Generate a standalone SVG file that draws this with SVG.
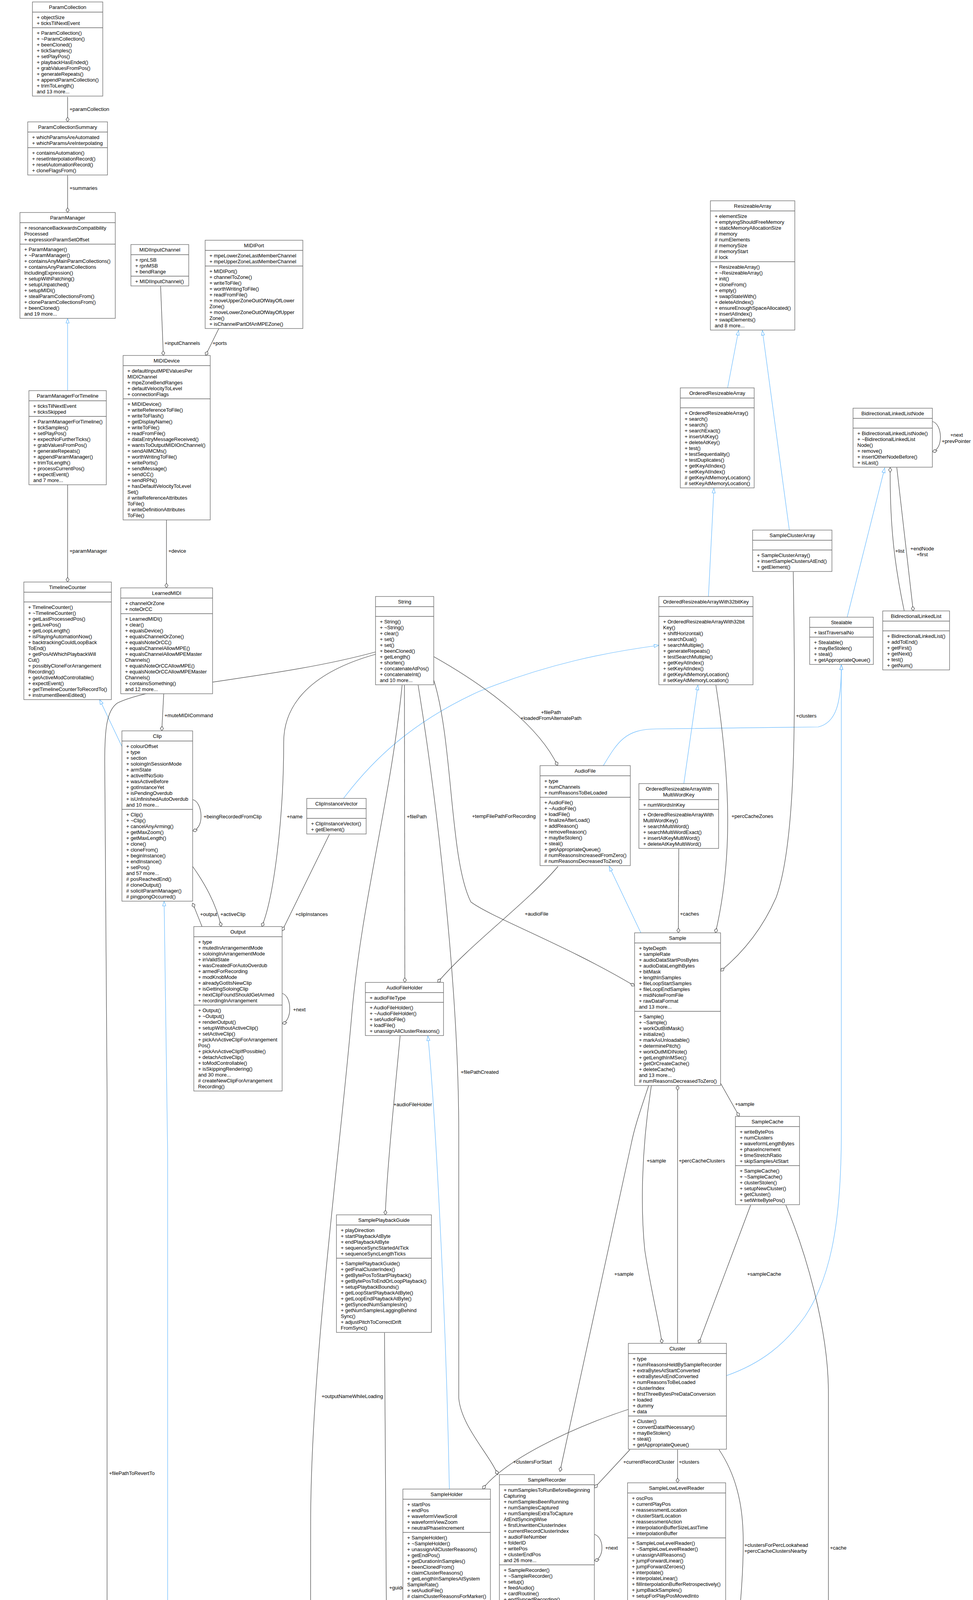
<svg xmlns="http://www.w3.org/2000/svg" width="2490" height="5821" viewBox="0 0 2490 5821">
<style>
.b{fill:#fff;stroke:#666;stroke-width:1.3}
.g{fill:#999;stroke:#666;stroke-width:1.3}
.s{stroke:#666;stroke-width:1.3;fill:none}
text{font-family:"Liberation Sans",Arial,Helvetica,sans-serif;font-size:13px;fill:#000}
.c{text-anchor:middle}
.e{fill:none;stroke:#404040;stroke-width:1.2;marker-end:url(#dia)}
.i{fill:none;stroke:#63b8ff;stroke-width:1.2;marker-end:url(#tri)}
</style>
<defs>
<marker id="dia" markerUnits="userSpaceOnUse" markerWidth="14" markerHeight="10" refX="12" refY="5" orient="auto" overflow="visible"><path d="M0,5 L6,1 L12,5 L6,9 z" fill="#fff" stroke="#404040" stroke-width="1.2"/></marker>
<marker id="tri" markerUnits="userSpaceOnUse" markerWidth="13" markerHeight="10" refX="12" refY="5" orient="auto" overflow="visible"><path d="M0,1 L12,5 L0,9 z" fill="#fff" stroke="#63b8ff" stroke-width="1.2"/></marker>
</defs>
<rect width="2490" height="5821" fill="#fff"/>

<g id="connectors">
<path class="e" d="M173,248 L173,312"/><text x="178" y="284">+paramCollection</text>
<path class="e" d="M173,449 L173,544"/><text x="178" y="486">+summaries</text>
<path class="i" d="M173,1000 L173,815"/>
<path class="e" d="M411,733 L418,910"/><text x="421" y="883">+inputChannels</text>
<path class="e" d="M560,841 L526,910"/><text x="544" y="883">+ports</text>
<path class="e" d="M173,1241 L173,1490"/><text x="178" y="1415">+paramManager</text>
<path class="e" d="M426,1331 L426,1505"/><text x="431" y="1415">+device</text>
<path class="i" d="M312,1911 L255,1791"/>
<path class="e" d="M419,1776 L414,1871"/><text x="421" y="1836">+muteMIDICommand</text>
<path class="e" d="M493,2047 C518,2052 525,2120 493,2127"/><text x="521" y="2095">+beingRecordedFromClip</text>
<path class="e" d="M517,2372 L493,2312"/><text x="512" y="2345">+output</text>
<path class="e" d="M493,2218 C530,2270 555,2320 566,2372"/><text x="564" y="2345">+activeClip</text>
<path class="e" d="M961,1675 C800,1720 726,1800 726,1900 C726,2100 700,2300 670,2372"/><text x="734" y="2095">+name</text>
<path class="e" d="M843,2136 L722,2383"/><text x="756" y="2345">+clipInstances</text>
<path class="e" d="M961,1669 C700,1740 400,1750 300,1800 C272,1820 268,1870 268,1950 C272,2200 274,2500 274,2800 L274,5722"/><text x="279" y="3776">+filePathToRevertTo</text>
<path class="e" d="M722,2543 C748,2550 748,2615 722,2620"/><text x="750" y="2589">+next</text>
<path class="i" d="M879,2044 C950,1950 1050,1850 1226,1770 C1400,1700 1550,1670 1686,1652"/>
<path class="e" d="M1035,1754 L1036,2515"/><text x="1041" y="2095">+filePath</text>
<path class="e" d="M1110,1681 C1250,1760 1380,1860 1427,1960"/><text class="c" x="1410" y="1828">+filePath</text><text class="c" x="1410" y="1843">+loadedFromAlternatePath</text>
<path class="e" d="M1110,1741 C1160,1900 1150,2200 1205,2309 C1260,2350 1450,2420 1624,2524"/><text x="1208" y="2094">+tempFilePathForRecording</text>
<path class="e" d="M1070,1754 C1110,2000 1174,2500 1174,2900 L1174,3579 C1180,3650 1250,3720 1274,3775"/><text x="1179" y="2749">+filePathCreated</text>
<path class="e" d="M1029,1754 C1000,2050 926,2300 900,2600 C870,2950 795,3500 795,3900 L794,4950 C795,5150 830,5300 837,5357"/><text x="823" y="3579">+outputNameWhileLoading</text>
<path class="e" d="M1428,2218 C1350,2310 1200,2420 1120,2515"/><text x="1343" y="2344">+audioFile</text>
<path class="i" d="M1544,1960 C1580,1900 1600,1866 1680,1866 L2094,1861 C2140,1850 2153,1800 2153,1702"/>
<path class="i" d="M1858,3522 C1950,3490 2010,3440 2060,3370 C2120,3280 2153,3150 2153,2900 L2153,1702"/>
<path class="i" d="M1862,993 L1890,846"/>
<path class="i" d="M2020,1357 L1951,846"/>
<path class="i" d="M1813,1527 L1827,1250"/>
<path class="e" d="M2386,1079 C2412,1085 2415,1150 2386,1156"/><text x="2432" y="1118">+next</text><text x="2410" y="1134">+prevPointer</text>
<path class="i" d="M2168,1580 L2264,1198"/>
<path class="e" d="M2314,1564 C2290,1450 2277,1350 2278,1197"/><text x="2291" y="1415">+list</text>
<path class="e" d="M2295,1197 L2337,1564"/><text class="c" x="2360" y="1409">+endNode</text><text class="c" x="2360" y="1424">+first</text>
<path class="i" d="M1750,2006 L1786,1754"/>
<path class="e" d="M1737,2173 L1736,2388"/><text x="1740" y="2344">+caches</text>
<path class="e" d="M1832,1754 C1870,2000 1875,2200 1831,2388"/><text x="1872" y="2094">+percCacheZones</text>
<path class="i" d="M1640,2388 L1559,2218"/>
<path class="e" d="M2030,1464 C2035,1800 2040,2150 1986,2298 C1950,2380 1900,2440 1844,2486"/><text x="2037" y="1837">+clusters</text>
<path class="e" d="M1844,2773 L1892,2858"/><text x="1881" y="2831">+sample</text>
<path class="e" d="M1734,3439 L1734,2779"/><text x="1737" y="2976">+percCacheClusters</text>
<path class="e" d="M1667,2779 C1640,2950 1640,3100 1650,3200 C1665,3300 1690,3400 1694,3439"/><text x="1655" y="2976">+sample</text>
<path class="e" d="M1660,2779 C1640,2840 1625,2880 1615,2930 L1433,3767"/><text x="1572" y="3266">+sample</text>
<path class="e" d="M1921,3085 L1788,3439"/><text x="1912" y="3266">+sampleCache</text>
<path class="e" d="M2011,3085 C2060,3200 2120,3400 2120,3565 L2120,4546 C2120,4700 1950,4880 1873,4951"/><text x="2124" y="3967">+cache</text>
<path class="e" d="M1024,2652 C1010,2800 990,3000 986,3110"/><text x="1007" y="2832">+audioFileHolder</text>
<path class="i" d="M1150,3812 C1140,3300 1110,2800 1095,2652"/>
<path class="e" d="M1608,3608 C1450,3660 1290,3740 1235,3812"/><text x="1313" y="3747">+clustersForStart</text>
<path class="e" d="M1612,3711 L1521,3809"/><text x="1595" y="3747">+currentRecordCluster</text>
<path class="e" d="M1734,3711 L1734,3796"/><text x="1737" y="3747">+clusters</text>
<path class="e" d="M1840,3711 C1900,3800 1902,3900 1902,3950 C1902,4050 1890,4150 1885,4216"/><text x="1905" y="3960">+clustersForPercLookahead</text><text x="1905" y="3975">+percCacheClustersNearby</text>
<path class="e" d="M1766,4129 L1784,4216"/><text x="1784" y="4188">+olderPartReader</text>
<path class="e" d="M1521,3928 C1547,3935 1547,3990 1521,3995"/><text x="1549" y="3967">+next</text>
<path class="e" d="M1952,4387 C1980,4395 1980,4455 1952,4463"/><text x="1980" y="4432">+nextUnassigned</text>
<path class="e" d="M1807,4638 L1782,4855"/><text x="1808" y="4751">+timeStretcher</text>
<path class="i" d="M1723,4855 C1700,4700 1690,4450 1708,4129"/>
<path class="e" d="M1873,5032 C1900,5040 1900,5105 1873,5110"/><text x="1900" y="5075">+nextUnassigned</text>
<path class="e" d="M984,3412 L990,4300 C992,4700 992,4950 996,5000 C995,5200 985,5300 982,5357"/><text x="996" y="4069">+guide</text>
<path class="i" d="M1141,4664 L1141,4113"/>
<path class="e" d="M1139,4830 C1129,4950 1074,5130 1060,5200 C1040,5300 1020,5370 1006,5380"/><text x="1140" y="5079">+sampleHolder</text>
<path class="e" d="M1400,4151 C1400,4500 1390,4800 1375,4950 C1350,5150 1200,5380 1006,5480"/><text x="1402" y="4474">+recorder</text>
<path class="e" d="M1632,5200 C1500,5260 1400,5313 1212,5400 C1100,5450 1040,5500 1006,5520"/><text x="1393" y="5330">+voiceSample</text>
<path class="e" d="M906,5143 L906,5357"/><text x="911" y="5330">+renderData</text>
<path class="e" d="M642,5135 C640,5250 680,5350 730,5400 C760,5430 790,5450 807,5460"/><text x="677" y="5330">+sampleControls</text>
<path class="i" d="M807,5520 C700,5450 550,5330 500,5257 C440,5150 429,5000 429,4900 L429,2950 L420,2307"/>
<path class="e" d="M807,5560 L393,5722"/><text x="484" y="5696">+clip</text>
<path class="e" d="M176,5477 C202,5485 202,5530 176,5538"/><text x="204" y="5513">+next</text>
<path class="i" d="M242,5723 L134,5569"/>
</g>

<g id="ParamCollection"><rect class="b" x="83" y="5" width="180" height="241"/><text class="c" x="173" y="22.5">ParamCollection</text><path class="s" d="M83,31 h180 M83,71 h180"/>
<text x="94" y="48.5">+ objectSize<tspan x="94" dy="15">+ ticksTilNextEvent</tspan></text>
<text x="94" y="88.5">+ ParamCollection()<tspan x="94" dy="15">+ ~ParamCollection()</tspan><tspan x="94" dy="15">+ beenCloned()</tspan><tspan x="94" dy="15">+ tickSamples()</tspan><tspan x="94" dy="15">+ setPlayPos()</tspan><tspan x="94" dy="15">+ playbackHasEnded()</tspan><tspan x="94" dy="15">+ grabValuesFromPos()</tspan><tspan x="94" dy="15">+ generateRepeats()</tspan><tspan x="94" dy="15">+ appendParamCollection()</tspan><tspan x="94" dy="15">+ trimToLength()</tspan><tspan x="94" dy="15">and 13 more...</tspan></text></g>

<g id="ParamCollectionSummary"><rect class="b" x="71" y="312" width="204" height="136"/><text class="c" x="173" y="329.5">ParamCollectionSummary</text><path class="s" d="M71,338 h204 M71,378 h204"/>
<text x="82" y="355.5">+ whichParamsAreAutomated<tspan x="82" dy="15">+ whichParamsAreInterpolating</tspan></text>
<text x="82" y="395.5">+ containsAutomation()<tspan x="82" dy="15">+ resetInterpolationRecord()</tspan><tspan x="82" dy="15">+ resetAutomationRecord()</tspan><tspan x="82" dy="15">+ cloneFlagsFrom()</tspan></text></g>

<g id="ParamManager"><rect class="b" x="51" y="544" width="244" height="271"/><text class="c" x="173" y="561.5">ParamManager</text><path class="s" d="M51,570 h244 M51,625 h244"/>
<text x="62" y="587.5">+ resonanceBackwardsCompatibility<tspan x="62" dy="15">Processed</tspan><tspan x="62" dy="15">+ expressionParamSetOffset</tspan></text>
<text x="62" y="642.5">+ ParamManager()<tspan x="62" dy="15">+ ~ParamManager()</tspan><tspan x="62" dy="15">+ containsAnyMainParamCollections()</tspan><tspan x="62" dy="15">+ containsAnyParamCollections</tspan><tspan x="62" dy="15">IncludingExpression()</tspan><tspan x="62" dy="15">+ setupWithPatching()</tspan><tspan x="62" dy="15">+ setupUnpatched()</tspan><tspan x="62" dy="15">+ setupMIDI()</tspan><tspan x="62" dy="15">+ stealParamCollectionsFrom()</tspan><tspan x="62" dy="15">+ cloneParamCollectionsFrom()</tspan><tspan x="62" dy="15">+ beenCloned()</tspan><tspan x="62" dy="15">and 19 more...</tspan></text></g>

<g id="MIDIInputChannel"><rect class="b" x="335" y="626" width="148" height="106"/><text class="c" x="409" y="643.5">MIDIInputChannel</text><path class="s" d="M335,652 h148 M335,707 h148"/>
<text x="346" y="669.5">+ rpnLSB<tspan x="346" dy="15">+ rpnMSB</tspan><tspan x="346" dy="15">+ bendRange</tspan></text>
<text x="346" y="724.5">+ MIDIInputChannel()</text></g>

<g id="MIDIPort"><rect class="b" x="525" y="615" width="250" height="226"/><text class="c" x="650" y="632.5">MIDIPort</text><path class="s" d="M525,641 h250 M525,681 h250"/>
<text x="536" y="658.5">+ mpeLowerZoneLastMemberChannel<tspan x="536" dy="15">+ mpeUpperZoneLastMemberChannel</tspan></text>
<text x="536" y="698.5">+ MIDIPort()<tspan x="536" dy="15">+ channelToZone()</tspan><tspan x="536" dy="15">+ writeToFile()</tspan><tspan x="536" dy="15">+ worthWritingToFile()</tspan><tspan x="536" dy="15">+ readFromFile()</tspan><tspan x="536" dy="15">+ moveUpperZoneOutOfWayOfLower</tspan><tspan x="536" dy="15">Zone()</tspan><tspan x="536" dy="15">+ moveLowerZoneOutOfWayOfUpper</tspan><tspan x="536" dy="15">Zone()</tspan><tspan x="536" dy="15">+ isChannelPartOfAnMPEZone()</tspan></text></g>

<g id="ParamManagerForTimeline"><rect class="b" x="74" y="1000" width="198" height="241"/><text class="c" x="173" y="1017.5">ParamManagerForTimeline</text><path class="s" d="M74,1026 h198 M74,1066 h198"/>
<text x="85" y="1043.5">+ ticksTilNextEvent<tspan x="85" dy="15">+ ticksSkipped</tspan></text>
<text x="85" y="1083.5">+ ParamManagerForTimeline()<tspan x="85" dy="15">+ tickSamples()</tspan><tspan x="85" dy="15">+ setPlayPos()</tspan><tspan x="85" dy="15">+ expectNoFurtherTicks()</tspan><tspan x="85" dy="15">+ grabValuesFromPos()</tspan><tspan x="85" dy="15">+ generateRepeats()</tspan><tspan x="85" dy="15">+ appendParamManager()</tspan><tspan x="85" dy="15">+ trimToLength()</tspan><tspan x="85" dy="15">+ processCurrentPos()</tspan><tspan x="85" dy="15">+ expectEvent()</tspan><tspan x="85" dy="15">and 7 more...</tspan></text></g>

<g id="MIDIDevice"><rect class="b" x="315" y="910" width="223" height="421"/><text class="c" x="426.5" y="927.5">MIDIDevice</text><path class="s" d="M315,936 h223 M315,1021 h223"/>
<text x="326" y="953.5">+ defaultInputMPEValuesPer<tspan x="326" dy="15">MIDIChannel</tspan><tspan x="326" dy="15">+ mpeZoneBendRanges</tspan><tspan x="326" dy="15">+ defaultVelocityToLevel</tspan><tspan x="326" dy="15">+ connectionFlags</tspan></text>
<text x="326" y="1038.5">+ MIDIDevice()<tspan x="326" dy="15">+ writeReferenceToFile()</tspan><tspan x="326" dy="15">+ writeToFlash()</tspan><tspan x="326" dy="15">+ getDisplayName()</tspan><tspan x="326" dy="15">+ writeToFile()</tspan><tspan x="326" dy="15">+ readFromFile()</tspan><tspan x="326" dy="15">+ dataEntryMessageReceived()</tspan><tspan x="326" dy="15">+ wantsToOutputMIDIOnChannel()</tspan><tspan x="326" dy="15">+ sendAllMCMs()</tspan><tspan x="326" dy="15">+ worthWritingToFile()</tspan><tspan x="326" dy="15">+ writePorts()</tspan><tspan x="326" dy="15">+ sendMessage()</tspan><tspan x="326" dy="15">+ sendCC()</tspan><tspan x="326" dy="15">+ sendRPN()</tspan><tspan x="326" dy="15">+ hasDefaultVelocityToLevel</tspan><tspan x="326" dy="15">Set()</tspan><tspan x="326" dy="15"># writeReferenceAttributes</tspan><tspan x="326" dy="15">ToFile()</tspan><tspan x="326" dy="15"># writeDefinitionAttributes</tspan><tspan x="326" dy="15">ToFile()</tspan></text></g>

<g id="TimelineCounter"><rect class="b" x="61" y="1490" width="224" height="301"/><text class="c" x="173" y="1507.5">TimelineCounter</text><path class="s" d="M61,1516 h224 M61,1541 h224"/>
<text x="72" y="1558.5">+ TimelineCounter()<tspan x="72" dy="15">+ ~TimelineCounter()</tspan><tspan x="72" dy="15">+ getLastProcessedPos()</tspan><tspan x="72" dy="15">+ getLivePos()</tspan><tspan x="72" dy="15">+ getLoopLength()</tspan><tspan x="72" dy="15">+ isPlayingAutomationNow()</tspan><tspan x="72" dy="15">+ backtrackingCouldLoopBack</tspan><tspan x="72" dy="15">ToEnd()</tspan><tspan x="72" dy="15">+ getPosAtWhichPlaybackWill</tspan><tspan x="72" dy="15">Cut()</tspan><tspan x="72" dy="15">+ possiblyCloneForArrangement</tspan><tspan x="72" dy="15">Recording()</tspan><tspan x="72" dy="15">+ getActiveModControllable()</tspan><tspan x="72" dy="15">+ expectEvent()</tspan><tspan x="72" dy="15">+ getTimelineCounterToRecordTo()</tspan><tspan x="72" dy="15">+ instrumentBeenEdited()</tspan></text></g>

<g id="LearnedMIDI"><rect class="b" x="309" y="1505" width="235" height="271"/><text class="c" x="426.5" y="1522.5">LearnedMIDI</text><path class="s" d="M309,1531 h235 M309,1571 h235"/>
<text x="320" y="1548.5">+ channelOrZone<tspan x="320" dy="15">+ noteOrCC</tspan></text>
<text x="320" y="1588.5">+ LearnedMIDI()<tspan x="320" dy="15">+ clear()</tspan><tspan x="320" dy="15">+ equalsDevice()</tspan><tspan x="320" dy="15">+ equalsChannelOrZone()</tspan><tspan x="320" dy="15">+ equalsNoteOrCC()</tspan><tspan x="320" dy="15">+ equalsChannelAllowMPE()</tspan><tspan x="320" dy="15">+ equalsChannelAllowMPEMaster</tspan><tspan x="320" dy="15">Channels()</tspan><tspan x="320" dy="15">+ equalsNoteOrCCAllowMPE()</tspan><tspan x="320" dy="15">+ equalsNoteOrCCAllowMPEMaster</tspan><tspan x="320" dy="15">Channels()</tspan><tspan x="320" dy="15">+ containsSomething()</tspan><tspan x="320" dy="15">and 12 more...</tspan></text></g>

<g id="String"><rect class="b" x="961" y="1527" width="149" height="226"/><text class="c" x="1035.5" y="1544.5">String</text><path class="s" d="M961,1553 h149 M961,1578 h149"/>
<text x="972" y="1595.5">+ String()<tspan x="972" dy="15">+ ~String()</tspan><tspan x="972" dy="15">+ clear()</tspan><tspan x="972" dy="15">+ set()</tspan><tspan x="972" dy="15">+ set()</tspan><tspan x="972" dy="15">+ beenCloned()</tspan><tspan x="972" dy="15">+ getLength()</tspan><tspan x="972" dy="15">+ shorten()</tspan><tspan x="972" dy="15">+ concatenateAtPos()</tspan><tspan x="972" dy="15">+ concatenateInt()</tspan><tspan x="972" dy="15">and 10 more...</tspan></text></g>

<g id="Clip"><rect class="b" x="312" y="1871" width="181" height="436"/><text class="c" x="402.5" y="1888.5">Clip</text><path class="s" d="M312,1897 h181 M312,2072 h181"/>
<text x="323" y="1914.5">+ colourOffset<tspan x="323" dy="15">+ type</tspan><tspan x="323" dy="15">+ section</tspan><tspan x="323" dy="15">+ soloingInSessionMode</tspan><tspan x="323" dy="15">+ armState</tspan><tspan x="323" dy="15">+ activeIfNoSolo</tspan><tspan x="323" dy="15">+ wasActiveBefore</tspan><tspan x="323" dy="15">+ gotInstanceYet</tspan><tspan x="323" dy="15">+ isPendingOverdub</tspan><tspan x="323" dy="15">+ isUnfinishedAutoOverdub</tspan><tspan x="323" dy="15">and 10 more...</tspan></text>
<text x="323" y="2089.5">+ Clip()<tspan x="323" dy="15">+ ~Clip()</tspan><tspan x="323" dy="15">+ cancelAnyArming()</tspan><tspan x="323" dy="15">+ getMaxZoom()</tspan><tspan x="323" dy="15">+ getMaxLength()</tspan><tspan x="323" dy="15">+ clone()</tspan><tspan x="323" dy="15">+ cloneFrom()</tspan><tspan x="323" dy="15">+ beginInstance()</tspan><tspan x="323" dy="15">+ endInstance()</tspan><tspan x="323" dy="15">+ setPos()</tspan><tspan x="323" dy="15">and 57 more...</tspan><tspan x="323" dy="15"># posReachedEnd()</tspan><tspan x="323" dy="15"># cloneOutput()</tspan><tspan x="323" dy="15"># solicitParamManager()</tspan><tspan x="323" dy="15"># pingpongOccurred()</tspan></text></g>

<g id="ClipInstanceVector"><rect class="b" x="785" y="2044" width="152" height="91"/><text class="c" x="861" y="2061.5">ClipInstanceVector</text><path class="s" d="M785,2070 h152 M785,2095 h152"/>
<text x="796" y="2112.5">+ ClipInstanceVector()<tspan x="796" dy="15">+ getElement()</tspan></text></g>

<g id="Output"><rect class="b" x="496" y="2372" width="226" height="421"/><text class="c" x="609" y="2389.5">Output</text><path class="s" d="M496,2398 h226 M496,2573 h226"/>
<text x="507" y="2415.5">+ type<tspan x="507" dy="15">+ mutedInArrangementMode</tspan><tspan x="507" dy="15">+ soloingInArrangementMode</tspan><tspan x="507" dy="15">+ inValidState</tspan><tspan x="507" dy="15">+ wasCreatedForAutoOverdub</tspan><tspan x="507" dy="15">+ armedForRecording</tspan><tspan x="507" dy="15">+ modKnobMode</tspan><tspan x="507" dy="15">+ alreadyGotItsNewClip</tspan><tspan x="507" dy="15">+ isGettingSoloingClip</tspan><tspan x="507" dy="15">+ nextClipFoundShouldGetArmed</tspan><tspan x="507" dy="15">+ recordingInArrangement</tspan></text>
<text x="507" y="2590.5">+ Output()<tspan x="507" dy="15">+ ~Output()</tspan><tspan x="507" dy="15">+ renderOutput()</tspan><tspan x="507" dy="15">+ setupWithoutActiveClip()</tspan><tspan x="507" dy="15">+ setActiveClip()</tspan><tspan x="507" dy="15">+ pickAnActiveClipForArrangement</tspan><tspan x="507" dy="15">Pos()</tspan><tspan x="507" dy="15">+ pickAnActiveClipIfPossible()</tspan><tspan x="507" dy="15">+ detachActiveClip()</tspan><tspan x="507" dy="15">+ toModControllable()</tspan><tspan x="507" dy="15">+ isSkippingRendering()</tspan><tspan x="507" dy="15">and 30 more...</tspan><tspan x="507" dy="15"># createNewClipForArrangement</tspan><tspan x="507" dy="15">Recording()</tspan></text></g>

<g id="ResizeableArray"><rect class="b" x="1818" y="514" width="216" height="331"/><text class="c" x="1926" y="531.5">ResizeableArray</text><path class="s" d="M1818,540 h216 M1818,670 h216"/>
<text x="1829" y="557.5">+ elementSize<tspan x="1829" dy="15">+ emptyingShouldFreeMemory</tspan><tspan x="1829" dy="15">+ staticMemoryAllocationSize</tspan><tspan x="1829" dy="15"># memory</tspan><tspan x="1829" dy="15"># numElements</tspan><tspan x="1829" dy="15"># memorySize</tspan><tspan x="1829" dy="15"># memoryStart</tspan><tspan x="1829" dy="15"># lock</tspan></text>
<text x="1829" y="687.5">+ ResizeableArray()<tspan x="1829" dy="15">+ ~ResizeableArray()</tspan><tspan x="1829" dy="15">+ init()</tspan><tspan x="1829" dy="15">+ cloneFrom()</tspan><tspan x="1829" dy="15">+ empty()</tspan><tspan x="1829" dy="15">+ swapStateWith()</tspan><tspan x="1829" dy="15">+ deleteAtIndex()</tspan><tspan x="1829" dy="15">+ ensureEnoughSpaceAllocated()</tspan><tspan x="1829" dy="15">+ insertAtIndex()</tspan><tspan x="1829" dy="15">+ swapElements()</tspan><tspan x="1829" dy="15">and 8 more...</tspan></text></g>

<g id="OrderedResizeableArray"><rect class="b" x="1741" y="993" width="189" height="256"/><text class="c" x="1835.5" y="1010.5">OrderedResizeableArray</text><path class="s" d="M1741,1019 h189 M1741,1044 h189"/>
<text x="1752" y="1061.5">+ OrderedResizeableArray()<tspan x="1752" dy="15">+ search()</tspan><tspan x="1752" dy="15">+ search()</tspan><tspan x="1752" dy="15">+ searchExact()</tspan><tspan x="1752" dy="15">+ insertAtKey()</tspan><tspan x="1752" dy="15">+ deleteAtKey()</tspan><tspan x="1752" dy="15">+ test()</tspan><tspan x="1752" dy="15">+ testSequentiality()</tspan><tspan x="1752" dy="15">+ testDuplicates()</tspan><tspan x="1752" dy="15">+ getKeyAtIndex()</tspan><tspan x="1752" dy="15">+ setKeyAtIndex()</tspan><tspan x="1752" dy="15"># getKeyAtMemoryLocation()</tspan><tspan x="1752" dy="15"># setKeyAtMemoryLocation()</tspan></text></g>

<g id="BidirectionalLinkedListNode"><rect class="b" x="2183" y="1045" width="203" height="151"/><text class="c" x="2284.5" y="1062.5">BidirectionalLinkedListNode</text><path class="s" d="M2183,1071 h203 M2183,1096 h203"/>
<text x="2194" y="1113.5">+ BidirectionalLinkedListNode()<tspan x="2194" dy="15">+ ~BidirectionalLinkedList</tspan><tspan x="2194" dy="15">Node()</tspan><tspan x="2194" dy="15">+ remove()</tspan><tspan x="2194" dy="15">+ insertOtherNodeBefore()</tspan><tspan x="2194" dy="15">+ isLast()</tspan></text></g>

<g id="SampleClusterArray"><rect class="b" x="1926" y="1357" width="203" height="106"/><text class="c" x="2027.5" y="1374.5">SampleClusterArray</text><path class="s" d="M1926,1383 h203 M1926,1408 h203"/>
<text x="1937" y="1425.5">+ SampleClusterArray()<tspan x="1937" dy="15">+ insertSampleClustersAtEnd()</tspan><tspan x="1937" dy="15">+ getElement()</tspan></text></g>

<g id="OrderedResizeableArrayWith32bitKey"><rect class="b" x="1686" y="1527" width="241" height="226"/><text class="c" x="1806.5" y="1544.5">OrderedResizeableArrayWith32bitKey</text><path class="s" d="M1686,1553 h241 M1686,1578 h241"/>
<text x="1697" y="1595.5">+ OrderedResizeableArrayWith32bit<tspan x="1697" dy="15">Key()</tspan><tspan x="1697" dy="15">+ shiftHorizontal()</tspan><tspan x="1697" dy="15">+ searchDual()</tspan><tspan x="1697" dy="15">+ searchMultiple()</tspan><tspan x="1697" dy="15">+ generateRepeats()</tspan><tspan x="1697" dy="15">+ testSearchMultiple()</tspan><tspan x="1697" dy="15">+ getKeyAtIndex()</tspan><tspan x="1697" dy="15">+ setKeyAtIndex()</tspan><tspan x="1697" dy="15"># getKeyAtMemoryLocation()</tspan><tspan x="1697" dy="15"># setKeyAtMemoryLocation()</tspan></text></g>

<g id="Stealable"><rect class="b" x="2072" y="1580" width="163" height="121"/><text class="c" x="2153.5" y="1597.5">Stealable</text><path class="s" d="M2072,1606 h163 M2072,1631 h163"/>
<text x="2083" y="1623.5">+ lastTraversalNo</text>
<text x="2083" y="1648.5">+ Stealable()<tspan x="2083" dy="15">+ mayBeStolen()</tspan><tspan x="2083" dy="15">+ steal()</tspan><tspan x="2083" dy="15">+ getAppropriateQueue()</tspan></text></g>

<g id="BidirectionalLinkedList"><rect class="b" x="2259" y="1564" width="171" height="151"/><text class="c" x="2344.5" y="1581.5">BidirectionalLinkedList</text><path class="s" d="M2259,1590 h171 M2259,1615 h171"/>
<text x="2270" y="1632.5">+ BidirectionalLinkedList()<tspan x="2270" dy="15">+ addToEnd()</tspan><tspan x="2270" dy="15">+ getFirst()</tspan><tspan x="2270" dy="15">+ getNext()</tspan><tspan x="2270" dy="15">+ test()</tspan><tspan x="2270" dy="15">+ getNum()</tspan></text></g>

<g id="AudioFile"><rect class="b" x="1382" y="1960" width="231" height="256"/><text class="c" x="1497.5" y="1977.5">AudioFile</text><path class="s" d="M1382,1986 h231 M1382,2041 h231"/>
<text x="1393" y="2003.5">+ type<tspan x="1393" dy="15">+ numChannels</tspan><tspan x="1393" dy="15">+ numReasonsToBeLoaded</tspan></text>
<text x="1393" y="2058.5">+ AudioFile()<tspan x="1393" dy="15">+ ~AudioFile()</tspan><tspan x="1393" dy="15">+ loadFile()</tspan><tspan x="1393" dy="15">+ finalizeAfterLoad()</tspan><tspan x="1393" dy="15">+ addReason()</tspan><tspan x="1393" dy="15">+ removeReason()</tspan><tspan x="1393" dy="15">+ mayBeStolen()</tspan><tspan x="1393" dy="15">+ steal()</tspan><tspan x="1393" dy="15">+ getAppropriateQueue()</tspan><tspan x="1393" dy="15"># numReasonsIncreasedFromZero()</tspan><tspan x="1393" dy="15"># numReasonsDecreasedToZero()</tspan></text></g>

<g id="OrderedResizeableArrayWithMultiWordKey"><rect class="b" x="1635" y="2006" width="204" height="166"/><text class="c" x="1737" y="2023.5">OrderedResizeableArrayWith<tspan x="1737" dy="15">MultiWordKey</tspan></text><path class="s" d="M1635,2047 h204 M1635,2072 h204"/>
<text x="1646" y="2064.5">+ numWordsInKey</text>
<text x="1646" y="2089.5">+ OrderedResizeableArrayWith<tspan x="1646" dy="15">MultiWordKey()</tspan><tspan x="1646" dy="15">+ searchMultiWord()</tspan><tspan x="1646" dy="15">+ searchMultiWordExact()</tspan><tspan x="1646" dy="15">+ insertAtKeyMultiWord()</tspan><tspan x="1646" dy="15">+ deleteAtKeyMultiWord()</tspan></text></g>

<g id="Sample"><rect class="b" x="1624" y="2388" width="220" height="391"/><text class="c" x="1734" y="2405.5">Sample</text><path class="s" d="M1624,2414 h220 M1624,2589 h220"/>
<text x="1635" y="2431.5">+ byteDepth<tspan x="1635" dy="15">+ sampleRate</tspan><tspan x="1635" dy="15">+ audioDataStartPosBytes</tspan><tspan x="1635" dy="15">+ audioDataLengthBytes</tspan><tspan x="1635" dy="15">+ bitMask</tspan><tspan x="1635" dy="15">+ lengthInSamples</tspan><tspan x="1635" dy="15">+ fileLoopStartSamples</tspan><tspan x="1635" dy="15">+ fileLoopEndSamples</tspan><tspan x="1635" dy="15">+ midiNoteFromFile</tspan><tspan x="1635" dy="15">+ rawDataFormat</tspan><tspan x="1635" dy="15">and 13 more...</tspan></text>
<text x="1635" y="2606.5">+ Sample()<tspan x="1635" dy="15">+ ~Sample()</tspan><tspan x="1635" dy="15">+ workOutBitMask()</tspan><tspan x="1635" dy="15">+ initialize()</tspan><tspan x="1635" dy="15">+ markAsUnloadable()</tspan><tspan x="1635" dy="15">+ determinePitch()</tspan><tspan x="1635" dy="15">+ workOutMIDINote()</tspan><tspan x="1635" dy="15">+ getLengthInMSec()</tspan><tspan x="1635" dy="15">+ getOrCreateCache()</tspan><tspan x="1635" dy="15">+ deleteCache()</tspan><tspan x="1635" dy="15">and 13 more...</tspan><tspan x="1635" dy="15"># numReasonsDecreasedToZero()</tspan></text></g>

<g id="AudioFileHolder"><rect class="b" x="935" y="2515" width="200" height="136"/><text class="c" x="1035" y="2532.5">AudioFileHolder</text><path class="s" d="M935,2541 h200 M935,2566 h200"/>
<text x="946" y="2558.5">+ audioFileType</text>
<text x="946" y="2583.5">+ AudioFileHolder()<tspan x="946" dy="15">+ ~AudioFileHolder()</tspan><tspan x="946" dy="15">+ setAudioFile()</tspan><tspan x="946" dy="15">+ loadFile()</tspan><tspan x="946" dy="15">+ unassignAllClusterReasons()</tspan></text></g>

<g id="SampleCache"><rect class="b" x="1882" y="2858" width="164" height="226"/><text class="c" x="1964" y="2875.5">SampleCache</text><path class="s" d="M1882,2884 h164 M1882,2984 h164"/>
<text x="1893" y="2901.5">+ writeBytePos<tspan x="1893" dy="15">+ numClusters</tspan><tspan x="1893" dy="15">+ waveformLengthBytes</tspan><tspan x="1893" dy="15">+ phaseIncrement</tspan><tspan x="1893" dy="15">+ timeStretchRatio</tspan><tspan x="1893" dy="15">+ skipSamplesAtStart</tspan></text>
<text x="1893" y="3001.5">+ SampleCache()<tspan x="1893" dy="15">+ ~SampleCache()</tspan><tspan x="1893" dy="15">+ clusterStolen()</tspan><tspan x="1893" dy="15">+ setupNewCluster()</tspan><tspan x="1893" dy="15">+ getCluster()</tspan><tspan x="1893" dy="15">+ setWriteBytePos()</tspan></text></g>

<g id="SamplePlaybackGuide"><rect class="b" x="861" y="3110" width="243" height="301"/><text class="c" x="982.5" y="3127.5">SamplePlaybackGuide</text><path class="s" d="M861,3136 h243 M861,3221 h243"/>
<text x="872" y="3153.5">+ playDirection<tspan x="872" dy="15">+ startPlaybackAtByte</tspan><tspan x="872" dy="15">+ endPlaybackAtByte</tspan><tspan x="872" dy="15">+ sequenceSyncStartedAtTick</tspan><tspan x="872" dy="15">+ sequenceSyncLengthTicks</tspan></text>
<text x="872" y="3238.5">+ SamplePlaybackGuide()<tspan x="872" dy="15">+ getFinalClusterIndex()</tspan><tspan x="872" dy="15">+ getBytePosToStartPlayback()</tspan><tspan x="872" dy="15">+ getBytePosToEndOrLoopPlayback()</tspan><tspan x="872" dy="15">+ setupPlaybackBounds()</tspan><tspan x="872" dy="15">+ getLoopStartPlaybackAtByte()</tspan><tspan x="872" dy="15">+ getLoopEndPlaybackAtByte()</tspan><tspan x="872" dy="15">+ getSyncedNumSamplesIn()</tspan><tspan x="872" dy="15">+ getNumSamplesLaggingBehind</tspan><tspan x="872" dy="15">Sync()</tspan><tspan x="872" dy="15">+ adjustPitchToCorrectDrift</tspan><tspan x="872" dy="15">FromSync()</tspan></text></g>

<g id="Cluster"><rect class="b" x="1608" y="3439" width="251" height="271"/><text class="c" x="1733.5" y="3456.5">Cluster</text><path class="s" d="M1608,3465 h251 M1608,3625 h251"/>
<text x="1619" y="3482.5">+ type<tspan x="1619" dy="15">+ numReasonsHeldBySampleRecorder</tspan><tspan x="1619" dy="15">+ extraBytesAtStartConverted</tspan><tspan x="1619" dy="15">+ extraBytesAtEndConverted</tspan><tspan x="1619" dy="15">+ numReasonsToBeLoaded</tspan><tspan x="1619" dy="15">+ clusterIndex</tspan><tspan x="1619" dy="15">+ firstThreeBytesPreDataConversion</tspan><tspan x="1619" dy="15">+ loaded</tspan><tspan x="1619" dy="15">+ dummy</tspan><tspan x="1619" dy="15">+ data</tspan></text>
<text x="1619" y="3642.5">+ Cluster()<tspan x="1619" dy="15">+ convertDataIfNecessary()</tspan><tspan x="1619" dy="15">+ mayBeStolen()</tspan><tspan x="1619" dy="15">+ steal()</tspan><tspan x="1619" dy="15">+ getAppropriateQueue()</tspan></text></g>

<g id="SampleHolder"><rect class="b" x="1031" y="3812" width="224" height="301"/><text class="c" x="1143" y="3829.5">SampleHolder</text><path class="s" d="M1031,3838 h224 M1031,3923 h224"/>
<text x="1042" y="3855.5">+ startPos<tspan x="1042" dy="15">+ endPos</tspan><tspan x="1042" dy="15">+ waveformViewScroll</tspan><tspan x="1042" dy="15">+ waveformViewZoom</tspan><tspan x="1042" dy="15">+ neutralPhaseIncrement</tspan></text>
<text x="1042" y="3940.5">+ SampleHolder()<tspan x="1042" dy="15">+ ~SampleHolder()</tspan><tspan x="1042" dy="15">+ unassignAllClusterReasons()</tspan><tspan x="1042" dy="15">+ getEndPos()</tspan><tspan x="1042" dy="15">+ getDurationInSamples()</tspan><tspan x="1042" dy="15">+ beenClonedFrom()</tspan><tspan x="1042" dy="15">+ claimClusterReasons()</tspan><tspan x="1042" dy="15">+ getLengthInSamplesAtSystem</tspan><tspan x="1042" dy="15">SampleRate()</tspan><tspan x="1042" dy="15">+ setAudioFile()</tspan><tspan x="1042" dy="15"># claimClusterReasonsForMarker()</tspan><tspan x="1042" dy="15"># sampleBeenSet()</tspan></text></g>

<g id="SampleRecorder"><rect class="b" x="1278" y="3775" width="243" height="376"/><text class="c" x="1399.5" y="3792.5">SampleRecorder</text><path class="s" d="M1278,3801 h243 M1278,4006 h243"/>
<text x="1289" y="3818.5">+ numSamplesToRunBeforeBeginning<tspan x="1289" dy="15">Capturing</tspan><tspan x="1289" dy="15">+ numSamplesBeenRunning</tspan><tspan x="1289" dy="15">+ numSamplesCaptured</tspan><tspan x="1289" dy="15">+ numSamplesExtraToCapture</tspan><tspan x="1289" dy="15">AtEndSyncingWise</tspan><tspan x="1289" dy="15">+ firstUnwrittenClusterIndex</tspan><tspan x="1289" dy="15">+ currentRecordClusterIndex</tspan><tspan x="1289" dy="15">+ audioFileNumber</tspan><tspan x="1289" dy="15">+ folderID</tspan><tspan x="1289" dy="15">+ writePos</tspan><tspan x="1289" dy="15">+ clusterEndPos</tspan><tspan x="1289" dy="15">and 26 more...</tspan></text>
<text x="1289" y="4023.5">+ SampleRecorder()<tspan x="1289" dy="15">+ ~SampleRecorder()</tspan><tspan x="1289" dy="15">+ setup()</tspan><tspan x="1289" dy="15">+ feedAudio()</tspan><tspan x="1289" dy="15">+ cardRoutine()</tspan><tspan x="1289" dy="15">+ endSyncedRecording()</tspan><tspan x="1289" dy="15">+ inputLooksDifferential()</tspan><tspan x="1289" dy="15">+ inputHasNoRightChannel()</tspan><tspan x="1289" dy="15">+ abort()</tspan></text></g>

<g id="SampleLowLevelReader"><rect class="b" x="1606" y="3796" width="251" height="331"/><text class="c" x="1731.5" y="3813.5">SampleLowLevelReader</text><path class="s" d="M1606,3822 h251 M1606,3937 h251"/>
<text x="1617" y="3839.5">+ oscPos<tspan x="1617" dy="15">+ currentPlayPos</tspan><tspan x="1617" dy="15">+ reassessmentLocation</tspan><tspan x="1617" dy="15">+ clusterStartLocation</tspan><tspan x="1617" dy="15">+ reassessmentAction</tspan><tspan x="1617" dy="15">+ interpolationBufferSizeLastTime</tspan><tspan x="1617" dy="15">+ interpolationBuffer</tspan></text>
<text x="1617" y="3954.5">+ SampleLowLevelReader()<tspan x="1617" dy="15">+ ~SampleLowLevelReader()</tspan><tspan x="1617" dy="15">+ unassignAllReasons()</tspan><tspan x="1617" dy="15">+ jumpForwardLinear()</tspan><tspan x="1617" dy="15">+ jumpForwardZeroes()</tspan><tspan x="1617" dy="15">+ interpolate()</tspan><tspan x="1617" dy="15">+ interpolateLinear()</tspan><tspan x="1617" dy="15">+ fillInterpolationBufferRetrospectively()</tspan><tspan x="1617" dy="15">+ jumpBackSamples()</tspan><tspan x="1617" dy="15">+ setupForPlayPosMovedInto</tspan><tspan x="1617" dy="15">NewCluster()</tspan><tspan x="1617" dy="15">and 17 more...</tspan></text></g>

<g id="TimeStretcher"><rect class="b" x="1714" y="4216" width="238" height="421"/><text class="c" x="1833" y="4233.5">TimeStretcher</text><path class="s" d="M1714,4242 h238 M1714,4402 h238"/>
<text x="1725" y="4259.5">+ samplePosBig<tspan x="1725" dy="15">+ crossfadeProgress</tspan><tspan x="1725" dy="15">+ crossfadeIncrement</tspan><tspan x="1725" dy="15">+ samplesTilHopEnd</tspan><tspan x="1725" dy="15">+ buffer</tspan><tspan x="1725" dy="15">+ olderHeadReadingFromBuffer</tspan><tspan x="1725" dy="15">+ hasLoopedBackIntoPreMargin</tspan><tspan x="1725" dy="15">+ playHeadStillActive</tspan><tspan x="1725" dy="15">+ numTimesMissedHop</tspan><tspan x="1725" dy="15">+ olderBufferReadPos</tspan></text>
<text x="1725" y="4419.5">+ TimeStretcher()<tspan x="1725" dy="15">+ init()</tspan><tspan x="1725" dy="15">+ reInit()</tspan><tspan x="1725" dy="15">+ beenUnassigned()</tspan><tspan x="1725" dy="15">+ unassignAllReasonsForPerc</tspan><tspan x="1725" dy="15">Lookahead()</tspan><tspan x="1725" dy="15">+ unassignAllReasonsForPerc</tspan><tspan x="1725" dy="15">CacheClusters()</tspan><tspan x="1725" dy="15">+ hopEnd()</tspan><tspan x="1725" dy="15">+ rememberPercCacheCluster()</tspan><tspan x="1725" dy="15">+ updateClustersForPercLookahead()</tspan><tspan x="1725" dy="15">+ getSamplePos()</tspan><tspan x="1725" dy="15">+ allocateBuffer()</tspan><tspan x="1725" dy="15">+ readFromBuffer()</tspan><tspan x="1725" dy="15">+ setupCrossfadeFromCache()</tspan></text></g>

<g id="SampleHolderForClip"><rect class="b" x="1021" y="4664" width="241" height="166"/><text class="c" x="1141.5" y="4681.5">SampleHolderForClip</text><path class="s" d="M1021,4690 h241 M1021,4730 h241"/>
<text x="1032" y="4707.5">+ transpose<tspan x="1032" dy="15">+ cents</tspan></text>
<text x="1032" y="4747.5">+ SampleHolderForClip()<tspan x="1032" dy="15">+ ~SampleHolderForClip()</tspan><tspan x="1032" dy="15">+ setAudioFile()</tspan><tspan x="1032" dy="15">+ recalculateNeutralPhaseIncrement()</tspan><tspan x="1032" dy="15">+ beenClonedFrom()</tspan><tspan x="1032" dy="15"># sampleBeenSet()</tspan></text></g>

<g id="VoiceSample"><rect class="b" x="1632" y="4855" width="241" height="436"/><text class="c" x="1752.5" y="4872.5">VoiceSample</text><path class="s" d="M1632,4881 h241 M1632,5026 h241"/>
<text x="1643" y="4898.5">+ pendingSamplesLate<tspan x="1643" dy="15">+ cacheBytePos</tspan><tspan x="1643" dy="15">+ doneFirstRenderYet</tspan><tspan x="1643" dy="15">+ fudging</tspan><tspan x="1643" dy="15">+ forAudioClip</tspan><tspan x="1643" dy="15">+ writingToCache</tspan><tspan x="1643" dy="15">+ cacheLoopEndPointBytes</tspan><tspan x="1643" dy="15">+ cacheEndPointBytes</tspan><tspan x="1643" dy="15">+ cacheLoopLengthBytes</tspan></text>
<text x="1643" y="5043.5">+ VoiceSample()<tspan x="1643" dy="15">+ noteOn()</tspan><tspan x="1643" dy="15">+ noteOffWhenLoopEndPointExists()</tspan><tspan x="1643" dy="15">+ setupCacheLoopPoints()</tspan><tspan x="1643" dy="15">+ attemptLateSampleStart()</tspan><tspan x="1643" dy="15">+ weShouldBeTimeStretchingNow()</tspan><tspan x="1643" dy="15">+ render()</tspan><tspan x="1643" dy="15">+ beenUnassigned()</tspan><tspan x="1643" dy="15">+ shouldObeyMarkers()</tspan><tspan x="1643" dy="15">+ readSamplesResampledPossibly</tspan><tspan x="1643" dy="15">Caching()</tspan><tspan x="1643" dy="15">+ sampleZoneChanged()</tspan><tspan x="1643" dy="15">+ getPlaySample()</tspan><tspan x="1643" dy="15">+ unassignAllReasons()</tspan><tspan x="1643" dy="15">+ possiblySetUpCache()</tspan><tspan x="1643" dy="15">+ fudgeTimeStretchingToAvoid</tspan><tspan x="1643" dy="15">Click()</tspan></text></g>

<g id="SampleControls"><rect class="b" x="544" y="5013" width="213" height="121"/><text class="c" x="650.5" y="5030.5">SampleControls</text><path class="s" d="M544,5039 h213 M544,5094 h213"/>
<text x="555" y="5056.5">+ interpolationMode<tspan x="555" dy="15">+ pitchAndSpeedAreIndependent</tspan><tspan x="555" dy="15">+ reversed</tspan></text>
<text x="555" y="5111.5">+ SampleControls()<tspan x="555" dy="15">+ getInterpolationBufferSize()</tspan></text></g>

<g id="WaveformRenderData"><rect class="b" x="831" y="5005" width="151" height="136"/><text class="c" x="906.5" y="5022.5">WaveformRenderData</text><path class="s" d="M831,5031 h151 M831,5116 h151"/>
<text x="842" y="5048.5">+ xScroll<tspan x="842" dy="15">+ xZoom</tspan><tspan x="842" dy="15">+ maxPerCol</tspan><tspan x="842" dy="15">+ minPerCol</tspan><tspan x="842" dy="15">+ colStatus</tspan></text></g>

<g id="AudioClip"><rect class="b" x="807" y="5357" width="199" height="301"/><text class="c" x="906.5" y="5374.5">AudioClip</text><path class="s" d="M807,5383 h199 M807,5468 h199"/>
<text x="818" y="5400.5">+ attack<tspan x="818" dy="15">+ voicePriority</tspan><tspan x="818" dy="15">+ doingLateStart</tspan><tspan x="818" dy="15">+ maySetupCache</tspan><tspan x="818" dy="15">+ overdubsShouldCloneOutput</tspan></text>
<text x="818" y="5485.5">+ AudioClip()<tspan x="818" dy="15">+ ~AudioClip()</tspan><tspan x="818" dy="15">+ processCurrentPos()</tspan><tspan x="818" dy="15">+ expectNoFurtherTicks()</tspan><tspan x="818" dy="15">+ clone()</tspan><tspan x="818" dy="15">+ render()</tspan><tspan x="818" dy="15">+ detachFromOutput()</tspan><tspan x="818" dy="15">+ renderAsSingleRow()</tspan><tspan x="818" dy="15">+ claimOutput()</tspan><tspan x="818" dy="15">+ loadSample()</tspan><tspan x="818" dy="15">and 28 more...</tspan><tspan x="818" dy="15"># cloneOutput()</tspan></text></g>

<g id="Consequence"><rect class="b" x="5" y="5447" width="171" height="121"/><text class="c" x="90.5" y="5464.5">Consequence</text><path class="s" d="M5,5473 h171 M5,5498 h171"/>
<text x="16" y="5490.5">+ type</text>
<text x="16" y="5515.5">+ Consequence()<tspan x="16" dy="15">+ ~Consequence()</tspan><tspan x="16" dy="15">+ prepareForDestruction()</tspan><tspan x="16" dy="15">+ revert()</tspan></text></g>

<g id="ConsequenceAudioClipSetSample"><rect class="g" x="154" y="5723" width="241" height="91"/><text class="c" x="274.5" y="5740.5">ConsequenceAudioClipSetSample</text><path class="s" d="M154,5749 h241 M154,5774 h241"/>
<text x="165" y="5766.5">+ endPosToRevertTo</text>
<text x="165" y="5791.5">+ ConsequenceAudioClipSetSample()<tspan x="165" dy="15">+ revert()</tspan></text></g>
</svg>
